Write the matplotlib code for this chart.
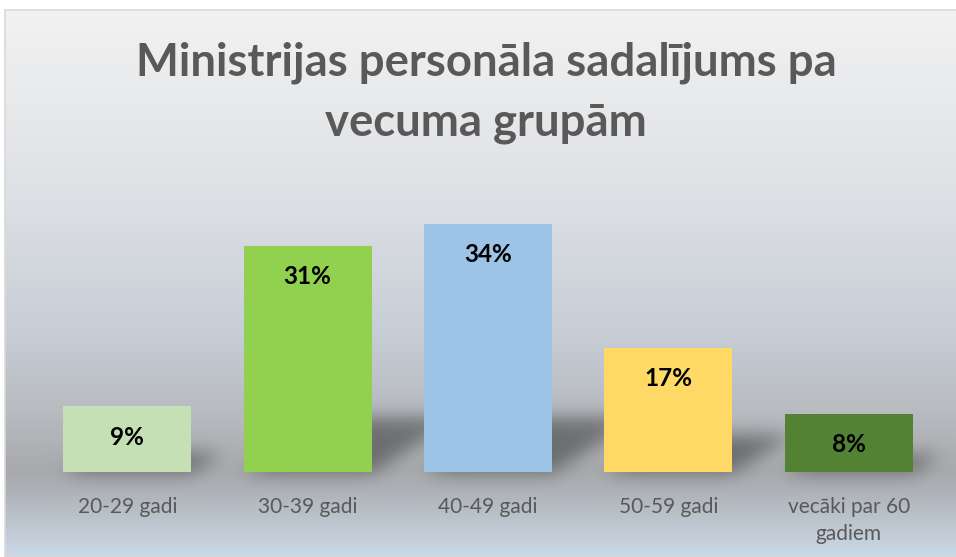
import matplotlib
matplotlib.use("Agg")
import matplotlib.pyplot as plt
import numpy as np
from matplotlib.patches import Rectangle

# ============================================================
# DATA
# ============================================================

categories = ["20-29 gadi", "30-39 gadi", "40-49 gadi", "50-59 gadi", "vecāki par 60\ngadiem"]
values = [9, 31, 34, 17, 8]
labels = ["9%", "31%", "34%", "17%", "8%"]
colors = ["#c5e0b4", "#92d050", "#9dc3e6", "#ffd966", "#548235"]

title = "Ministrijas personāla sadalījums pa\nvecuma grupām"

W, H, DPI = 956, 557, 100
FONT = ["Lato", "DejaVu Sans"]

plt.rcParams["font.family"] = FONT

# ============================================================
# FIGURE
# ============================================================

fig = plt.figure(figsize=(W / DPI, H / DPI), dpi=DPI)
fig.patch.set_facecolor("white")

bg = fig.add_axes([0, 0, 1, 1], zorder=0)
bg.set_axis_off()

ax = fig.add_axes([37 / W, 85 / H, 902 / W, 294 / H], zorder=1)
ax.set_facecolor("none")

x = np.arange(len(categories))
ax.set_xlim(-0.5, len(categories) - 0.5)
ax.set_ylim(0, 40.3)

# ============================================================
# BACKGROUND GRADIENT + SHADOWS
# ============================================================

stops_y = np.array([10, 200, 330, 410, 470, 485, 557])
stops_c = np.array([
    [242, 242, 242],
    [221, 224, 228],
    [200, 206, 215],
    [184, 187, 192],
    [168, 170, 173],
    [172, 175, 179],
    [204, 218, 232],
]) / 255.0

rows = np.arange(H)
grad = np.stack([np.interp(rows, stops_y, stops_c[:, k]) for k in range(3)], axis=1)
img = np.ones((H, W, 3))
img[10:, 5:, :] = grad[10:, None, :]

# perspective shadows behind bars, from data via transData
fig.canvas.draw()
mask = np.zeros((H, W))
yy, xx = np.mgrid[0:H, 0:W]
for xi, v in zip(x, values):
    x0, y0 = ax.transData.transform((xi - 0.355, 0))
    x1, y1 = ax.transData.transform((xi + 0.355, v))
    yb = H - y0
    hpx = min(0.3 * (y1 - y0), 55)
    shift = 1.6 * hpx
    t = (yb - yy) / max(hpx, 1)
    inside = (t >= 0) & (t <= 1)
    left = x0 + shift * t
    right = x1 + shift * t
    mask[inside & (xx >= left) & (xx <= right)] = 1.0


def blur(a, s):
    r = int(3 * s)
    k = np.exp(-0.5 * (np.arange(-r, r + 1) / s) ** 2)
    k /= k.sum()
    a = np.apply_along_axis(lambda m: np.convolve(m, k, mode="same"), 0, a)
    a = np.apply_along_axis(lambda m: np.convolve(m, k, mode="same"), 1, a)
    return a


mask = blur(mask, 9)
img = img * (1 - 0.38 * mask[:, :, None])
img[:10, :, :] = 1
img[:, :5, :] = 1

bg.imshow(img, extent=(0, W, 0, H), aspect="auto", interpolation="bilinear")
bg.set_xlim(0, W)
bg.set_ylim(0, H)
bg.add_patch(Rectangle((5, 0), W, H - 10, fill=False, edgecolor="#d9d9d9", linewidth=1.2))

# ============================================================
# BARS
# ============================================================

bars = ax.bar(x, values, width=0.71, color=colors, zorder=3)

for b, lab in zip(bars, labels):
    ax.annotate(lab, (b.get_x() + b.get_width() / 2, b.get_height()),
                xytext=(0, -31), textcoords="offset pixels",
                ha="center", va="center", fontsize=17.5, fontweight="bold",
                color="black", zorder=4)

ax.set_xticks(x)
ax.set_xticklabels(categories, fontsize=15, color="#595959", linespacing=1.45)
ax.tick_params(axis="x", length=0, pad=18)
ax.set_yticks([])
for s in ax.spines.values():
    s.set_visible(False)

fig.text(486 / W, 1 - 92.5 / H, title, ha="center", va="center",
         fontsize=32.8, fontweight="bold", color="#595959", linespacing=1.52)

fig.savefig("out.png", dpi=DPI)
